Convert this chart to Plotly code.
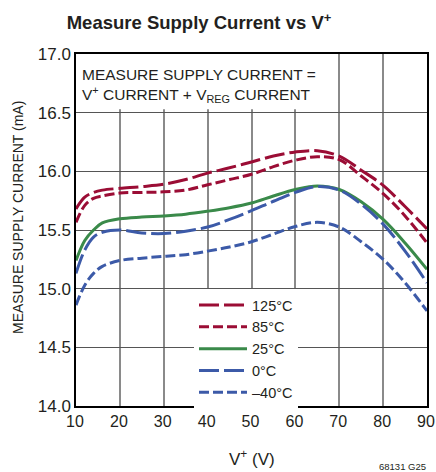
import plotly.graph_objects as go

v = [10, 12, 14, 16, 20, 25, 30, 35, 40, 45, 50, 55, 60, 65, 70, 75, 80, 85, 90]
i_125 = [15.68, 15.78, 15.82, 15.84, 15.855, 15.87, 15.89, 15.93, 15.985, 16.03, 16.08, 16.13, 16.165, 16.175, 16.13, 16.01, 15.88, 15.70, 15.51]
i_85 = [15.565, 15.71, 15.77, 15.79, 15.815, 15.82, 15.825, 15.84, 15.885, 15.93, 15.975, 16.04, 16.095, 16.125, 16.10, 15.96, 15.81, 15.62, 15.39]
i_25 = [15.24, 15.41, 15.50, 15.56, 15.595, 15.61, 15.62, 15.635, 15.66, 15.69, 15.73, 15.79, 15.845, 15.875, 15.845, 15.74, 15.59, 15.39, 15.165]
i_0 = [15.13, 15.33, 15.44, 15.48, 15.50, 15.475, 15.47, 15.49, 15.525, 15.59, 15.665, 15.745, 15.82, 15.87, 15.84, 15.72, 15.55, 15.32, 15.05]
i_m40 = [14.86, 15.03, 15.13, 15.19, 15.24, 15.26, 15.275, 15.29, 15.32, 15.355, 15.40, 15.465, 15.53, 15.565, 15.525, 15.40, 15.25, 15.05, 14.81]

names = ["125°C", "85°C", "25°C", "0°C", "–40°C"]
series = [i_125, i_85, i_25, i_0, i_m40]
RED = "#9b0d35"
GREEN = "#3a8a4a"
BLUE = "#3c5aa8"
colors = [RED, RED, GREEN, BLUE, BLUE]
dashes = ["20px,5px", "10px,4px", "solid", "20px,5px", "10px,4px"]

xticks = [10, 20, 30, 40, 50, 60, 70, 80, 90]
yticks = [14.0, 14.5, 15.0, 15.5, 16.0, 16.5, 17.0]

FONT = "Liberation Sans Narrow, Liberation Sans, Arial, sans-serif"
TXT = "#231f20"

W, H = 436, 472
L, T, R, B = 76, 54, 9, 66
PW, PH = W - L - R, H - T - B  # 351 x 352

fig = go.Figure()
for n, s, c, d in zip(names, series, colors, dashes):
    fig.add_trace(go.Scatter(x=v, y=s, name=n, mode="lines",
                             line=dict(color=c, width=3, dash=d, shape="spline", smoothing=1.0)))

fig.update_layout(
    width=W, height=H,
    margin=dict(l=L, r=R, t=T, b=B, autoexpand=False),
    paper_bgcolor="white", plot_bgcolor="white",
    font=dict(family=FONT, size=16, color=TXT),
    title=dict(text="<b>Measure Supply Current vs V<sup>+</sup></b>",
               x=199/W, xanchor="center", y=1-23/H, yanchor="middle",
               font=dict(family=FONT, size=18.5, color=TXT)),
    showlegend=True,
    legend=dict(x=(194-76)/PW, y=(406-289)/PH, xanchor="left", yanchor="top",
                bgcolor="white", borderwidth=0, itemwidth=48,
                font=dict(family=FONT, size=14.5, color=TXT),
                tracegroupgap=0),
    xaxis=dict(range=[10, 90], tickvals=xticks, ticktext=[str(t) for t in xticks],
               showgrid=True, gridcolor="#8a8a8a", gridwidth=1.5,
               showline=True, linecolor="black", linewidth=1.5, mirror=True,
               zeroline=False, ticks="", tickfont=dict(size=16),
               ticklabeloverflow="allow", ticklabelshift=-1),
    yaxis=dict(range=[14.0, 17.0], tickvals=yticks, ticktext=[f"{t:.1f}" for t in yticks],
               showgrid=True, gridcolor="#555555", gridwidth=1,
               showline=True, linecolor="black", linewidth=1.5, mirror=True,
               zeroline=False, ticks="", tickfont=dict(size=17),
               ticklabeloverflow="allow"),
)

# white box behind the note text
fig.add_shape(type="rect", xref="x", yref="y", x0=10, x1=65, y0=16.53, y1=17.0,
              fillcolor="white", line=dict(width=0), layer="between")

fig.add_annotation(xref="paper", yref="paper", x=4/PW, y=1-10/PH, xanchor="left", yanchor="top",
                   align="left", showarrow=False,
                   text="MEASURE SUPPLY CURRENT =<br>V<sup>+</sup> CURRENT + V<sub>REG</sub> CURRENT",
                   font=dict(family=FONT, size=15.5, color=TXT))

fig.add_annotation(xref="paper", yref="paper", x=(18-76)/PW, y=(406-218)/PH,
                   xanchor="center", yanchor="middle", textangle=-90, showarrow=False,
                   text="MEASURE SUPPLY CURRENT (mA)",
                   font=dict(family=FONT, size=14, color=TXT))

fig.add_annotation(xref="paper", yref="paper", x=(252-76)/PW, y=(406-458)/PH,
                   xanchor="center", yanchor="middle", showarrow=False,
                   text="V<sup>+</sup> (V)",
                   font=dict(family=FONT, size=17, color=TXT))

fig.add_annotation(xref="paper", yref="paper", x=(428-76)/PW, y=(406-466)/PH,
                   xanchor="right", yanchor="middle", showarrow=False,
                   text="68131 G25",
                   font=dict(family=FONT, size=9.5, color=TXT))

fig.write_html("out.html",
               config={"displayModeBar": False},
               post_script="document.body.style.margin='0px';document.body.style.overflow='hidden';")
